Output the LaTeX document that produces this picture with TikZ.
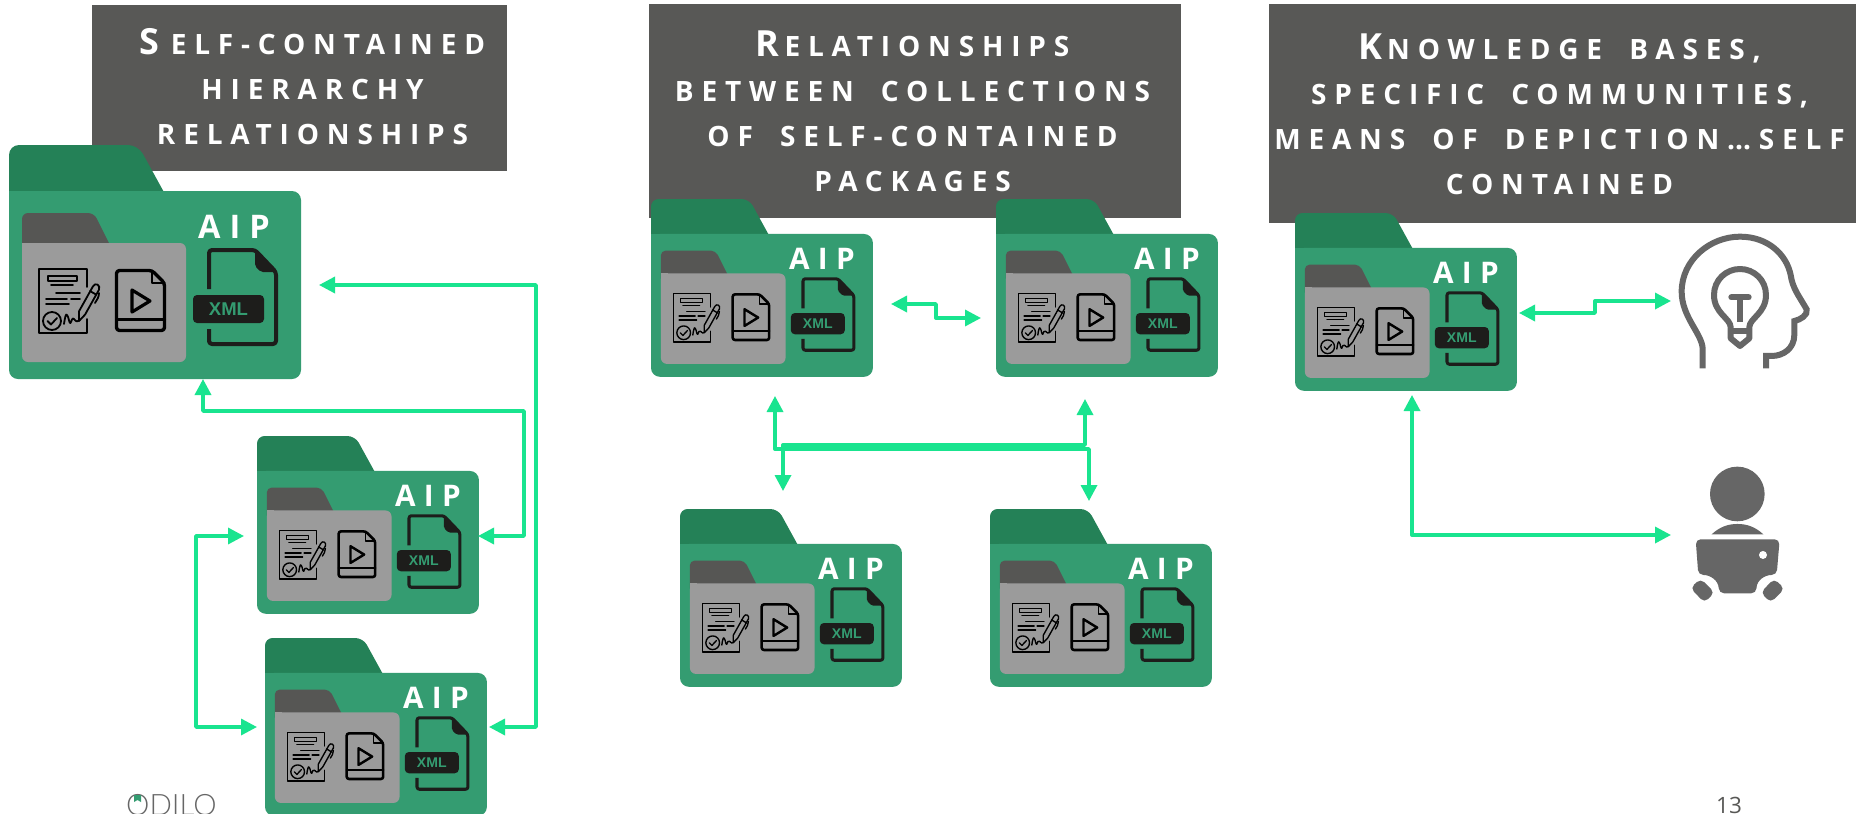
\documentclass[tikz,border=0pt]{standalone}
\usepackage{fontspec}
\usetikzlibrary{arrows.meta}
\newfontfamily\ttlfont[LetterSpace=28]{Open Sans}
\newfontfamily\numfont{Open Sans}
\newfontfamily\xmlfont{Liberation Sans}
\newfontfamily\logofont{Lato Light}
\definecolor{bodygreen}{HTML}{349C71}
\definecolor{tabgreen}{HTML}{248157}
\definecolor{arrowgreen}{HTML}{19E48F}
\definecolor{titlegray}{HTML}{585856}
\definecolor{innertab}{HTML}{565654}
\definecolor{innergray}{HTML}{9B9B9B}
\definecolor{inkdark}{HTML}{1D1D1B}
\definecolor{icongray}{HTML}{666666}
\newcommand{\ttlcap}[1]{{\fontsize{36}{45}\selectfont #1}\hspace{5pt}}
\newcommand{\wsp}{\hspace{12pt}}
\tikzset{
  lw/.style={line width=#1pt*\fs},
  titlebox/.style={fill=titlegray,inner sep=0pt,outer sep=0pt,anchor=north west},
  titletext/.style={text=white,align=center,anchor=base,inner sep=0pt,font=\ttlfont\bfseries\fontsize{28}{45}\selectfont},
  bodybox/.style={fill=bodygreen,inner sep=0pt,outer sep=0pt,anchor=north west,transform shape,rounded corners=9pt,minimum width=292pt,minimum height=188pt},
  graybox/.style={fill=innergray,inner sep=0pt,outer sep=0pt,anchor=north west,transform shape,rounded corners=6pt,minimum width=164pt,minimum height=119pt},
  badge/.style={fill=inkdark,text=bodygreen,inner sep=0pt,outer sep=0pt,transform shape,rounded corners=4pt,minimum width=71pt,minimum height=28pt,font=\xmlfont\bfseries\fontsize{18.5}{20}\selectfont},
  aiptext/.style={text=white,inner sep=0pt,anchor=base,transform shape,font=\ttlfont\bfseries\fontsize{32.5}{36}\selectfont},
  link/.style={draw=arrowgreen,line width=3.4pt,line join=round,{Triangle[length=16pt,width=16pt]}-{Triangle[length=16pt,width=16pt]}},
  icon/.style={draw=black,line cap=round,line join=round},
}
\newcommand{\aipfolder}[4]{%
\begin{scope}[shift={(#2,#3)},scale=#4]
  \def\fs{#4}
  \pgfmathsetmacro\aipk{1+(1-#4)*0.85}
  \fill[tabgreen] (0,60) [rounded corners=10pt*\fs] -- (0,0) -- (129,0) [sharp corners] -- (162,60) -- cycle;
  \node[bodybox] (#1) at (0,46) {};
  \fill[bodygreen] (0,46) rectangle (15,60);
  \fill[innertab] (13,104) [rounded corners=6pt*\fs] -- (13,68) -- (85,68) [sharp corners] -- (103,104) -- cycle;
  \node[graybox] (#1-g) at (13,98) {};
  \fill[innergray] (13,98) rectangle (22,108);
  % signed document
  \draw[icon,lw=1.8] (78,142) -- (78,124) -- (30,124) -- (30,188) -- (78,188) -- (78,174);
  \draw[icon,lw=1.8] (39,131) rectangle (68,136);
  \draw[icon,lw=1.8] (42,140) -- (64,140) (47,148) -- (71,148) (37,154) -- (58,154) (62,154) -- (71,154) (37,159) -- (60,159);
  \draw[icon,lw=1.8] (43,176) circle (9);
  \draw[icon,lw=1.8] (38.5,176) -- (42,179.5) -- (48,173);
  \draw[icon,lw=1.8] (55,179) .. controls (56,172) and (57,168) .. (58,170) .. controls (60,172) and (60,179) .. (61.5,178) .. controls (63,176) and (63,172) .. (65,174) .. controls (67,177) and (69,177) .. (71,175);
  \draw[icon,lw=1.8] (70,176) -- (70,166.3) -- (84,141.3) .. controls (86,137) and (92,140) .. (90,144.7) -- (76,169.7) -- cycle;
  \draw[icon,lw=1.8] (81,146) -- (87,149.5) (90,148) .. controls (90,152) and (88,155) .. (86,158);
  % video file
  \draw[icon,lw=3.4,rounded corners=3pt*\fs] (143,125.5) -- (107.5,125.5) -- (107.5,185.5) -- (155.5,185.5) -- (155.5,138) -- cycle;
  \draw[icon,lw=2] (143,125.5) -- (143,138) -- (155.5,138);
  \draw[icon,lw=3] (107.5,174) -- (155.5,174);
  \draw[icon,lw=3.2] (123,145) -- (123,167) -- (141,156) -- cycle;
  % XML file
  \node[aiptext,scale=\aipk] (#1-aip) at (225,93) {AIP};
  \draw[draw=inkdark,lw=4,line join=round,rounded corners=3pt*\fs] (200,144) -- (200,105) -- (246,105) -- (267,127) -- (267,199) -- (200,199) -- (200,184);
  \fill[inkdark,rounded corners=2pt*\fs] (246,104) -- (268,127) -- (252,127) -- (246,121) -- cycle;
  \node[badge] (#1-x) at (219.5,164) {XML};
\end{scope}}
\begin{document}
\begin{tikzpicture}[x=1pt,y=-1pt]
\useasboundingbox (0,0) rectangle (1856,814);
\fill[white] (0,0) rectangle (1856,814);
% title boxes
\node[titlebox,minimum width=415pt,minimum height=166pt] (box1) at (92,5) {};
\node[titlebox,minimum width=532pt,minimum height=214pt] (box2) at (649,4) {};
\node[titlebox,minimum width=587pt,minimum height=219pt] (box3) at (1269,4) {};
\node[titletext] (title1) at (312.5,144) {\ttlcap{S}\hspace{6pt}ELF-CONTAINED\\HIERARCHY\\RELATIONSHIPS};
\node[titletext] (title2) at (912.5,191) {\ttlcap{R}ELATIONSHIPS\\BETWEEN \wsp COLLECTIONS\\OF \wsp SELF-CONTAINED\\PACKAGES};
\node[titletext] (title3) at (1559.5,194) {\ttlcap{K}NOWLEDGE \wsp BASES,\\SPECIFIC \wsp COMMUNITIES,\\MEANS \wsp OF \wsp DEPICTION…SELF\\CONTAINED};
% folders
\aipfolder{f1}{9}{145}{1}
\aipfolder{f2}{257}{436}{0.76}
\aipfolder{f3}{265}{638}{0.76}
\aipfolder{f4}{651}{199}{0.76}
\aipfolder{f5}{996}{199}{0.76}
\aipfolder{f6}{680}{509}{0.76}
\aipfolder{f7}{990}{509}{0.76}
\aipfolder{f8}{1295}{213}{0.76}
% connector end points
\coordinate (a1) at (319,285); \coordinate (a2) at (536,285); \coordinate (a3) at (536,727); \coordinate (a4) at (489,727);
\coordinate (b1) at (203,379); \coordinate (b2) at (203,411); \coordinate (b3) at (524,411); \coordinate (b4) at (524,536); \coordinate (b5) at (478,536);
\coordinate (c1) at (244,536); \coordinate (c2) at (196,536); \coordinate (c3) at (196,727); \coordinate (c4) at (257,727);
\coordinate (d1) at (891,304); \coordinate (d2) at (936,304); \coordinate (d3) at (936,318); \coordinate (d4) at (981,318);
\coordinate (e1) at (775,396); \coordinate (e2) at (775,449); \coordinate (e3) at (1089,449); \coordinate (e4) at (1089,501);
\coordinate (g1) at (1085,399); \coordinate (g2) at (1085,445); \coordinate (g3) at (783,445); \coordinate (g4) at (783,491);
\coordinate (h1) at (1519,313); \coordinate (h2) at (1595,313); \coordinate (h3) at (1595,301); \coordinate (h4) at (1671,301);
\coordinate (k1) at (1412,395); \coordinate (k2) at (1412,535); \coordinate (k3) at (1671,535);
% connectors
\draw[link] (a1) -- (a2) -- (a3) -- (a4);
\draw[link] (b1) -- (b2) -- (b3) -- (b4) -- (b5);
\draw[link] (c1) -- (c2) -- (c3) -- (c4);
\draw[link] (d1) -- (d2) -- (d3) -- (d4);
\draw[link] (e1) -- (e2) -- (e3) -- (e4);
\draw[link] (g1) -- (g2) -- (g3) -- (g4);
\draw[link] (h1) -- (h2) -- (h3) -- (h4);
\draw[link] (k1) -- (k2) -- (k3);
% head with bulb
\begin{scope}[shift={(1640,220)},x=0.3333pt,y=-0.3333pt]
  \draw[icongray,line width=6pt] (188,445) -- (188,385) .. controls (185,340) and (125,290) .. (125,215) .. controls (125,120) and (210,50) .. (300,50) .. controls (385,50) and (440,105) .. (452,165) .. controls (458,205) and (475,225) .. (500,268) .. controls (505,285) and (480,300) .. (463,303) -- (463,345) .. controls (463,385) and (430,408) .. (395,408) -- (378,408) -- (378,445);
  \draw[icongray,line width=6pt,line join=round] (272,355) -- (272,322) .. controls (272,295) and (222,280) .. (222,225) .. controls (222,180) and (258,147) .. (300,147) .. controls (342,147) and (378,180) .. (378,225) .. controls (378,280) and (328,295) .. (328,322) -- (328,355) -- (300,378) -- cycle;
  \draw[icongray,line width=6pt] (272,332) -- (328,332);
  \draw[icongray,line width=6pt] (300,305) -- (300,235);
  \draw[icongray,line width=6pt,line cap=round] (274,232) -- (326,232);
\end{scope}
% person with laptop
\begin{scope}[shift={(1640,220)},x=0.3333pt,y=-0.3333pt]
  \fill[icongray] (292,822) circle (82);
  \fill[icongray] (215,943) .. controls (240,920) and (265,912) .. (292,912) .. controls (320,912) and (345,920) .. (370,943) -- cycle;
  \fill[icongray,rounded corners=5pt] (167,958) -- (419,958) -- (410,1065) .. controls (375,1065) and (350,1080) .. (349,1120) -- (237,1120) .. controls (235,1080) and (210,1065) .. (175,1065) -- cycle;
  \fill[white] (369,1005) circle (12);
  \fill[icongray,rounded corners=5pt] (182,1076) -- (224,1118) -- (193,1148) -- (151,1104) -- cycle;
  \fill[icongray,rounded corners=5pt] (402,1076) -- (434,1106) -- (392,1148) -- (362,1118) -- cycle;
\end{scope}
% logo and page number
\node[inner sep=0pt,anchor=base west,text=icongray,font=\logofont\fontsize{29.5}{30}\selectfont] (logo) at (126,815) {ODILO};
\fill[bodygreen] (134,795) -- (141,795) -- (141,802) -- (137.5,800) -- (134,802) -- cycle;
\node[inner sep=0pt,anchor=base,text=titlegray,font=\numfont\fontsize{22.5}{24}\selectfont] (page) at (1729,813) {13};
\end{tikzpicture}
\end{document}
